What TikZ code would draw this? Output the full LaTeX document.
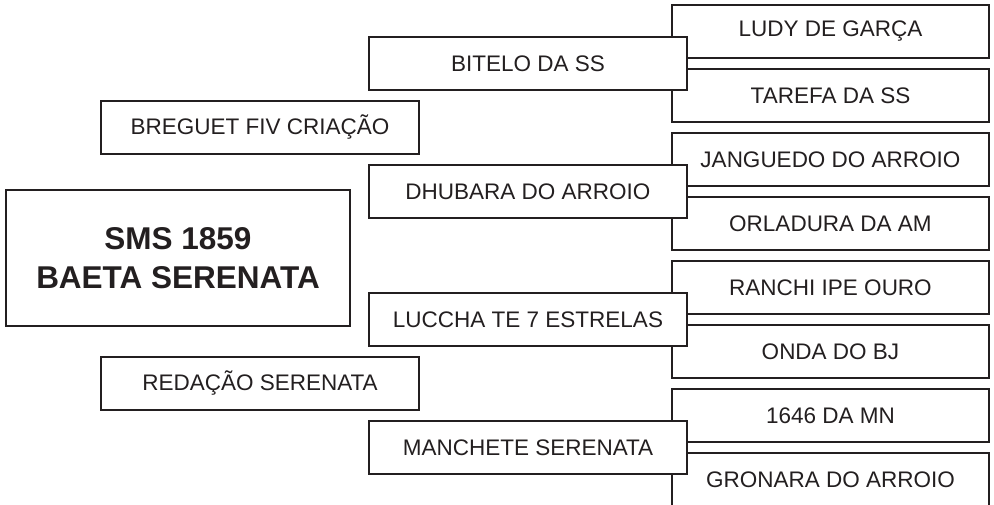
\documentclass[tikz,border=0pt]{standalone}
\usepackage{fontspec}
\setmainfont{Liberation Sans}
\definecolor{tinta}{RGB}{35,31,32}
\usepackage{tikz}

\begin{document}
\begin{tikzpicture}[x=1pt, y=-1pt, every node/.style={font=\fontsize{22.5}{26}\selectfont, text=tinta}]
  \tikzset{caixa/.style={draw=tinta, line width=2.9pt, fill=white, inner sep=0pt, minimum width=318pt, minimum height=53pt}}
  \useasboundingbox (0,0) rectangle (994,505);
  % Bisavos (direita)
  \foreach \i/\nome in {0/LUDY DE GARÇA, 1/TAREFA DA SS, 2/JANGUEDO DO ARROIO, 3/ORLADURA DA AM,
                        4/RANCHI IPE OURO, 5/ONDA DO BJ, 6/1646 DA MN, 7/GRONARA DO ARROIO} {
    \node[caixa, minimum width=317pt] (bisavo\i) at (830.5, 31.5+\i*64) {\nome};
  }
  % Avos (centro)
  \foreach \i/\nome in {0/BITELO DA SS, 1/DHUBARA DO ARROIO, 2/LUCCHA TE 7 ESTRELAS, 3/MANCHETE SERENATA} {
    \node[caixa] (avo\i) at (528, 63.5+\i*128) {\nome};
  }
  % Pais (esquerda)
  \foreach \i/\nome in {0/BREGUET FIV CRIAÇÃO, 1/REDAÇÃO SERENATA} {
    \node[caixa] (pai\i) at (260, 127.5+\i*256) {\nome};
  }
  % Animal
  \node[caixa, minimum width=344pt, minimum height=136pt, align=center,
        font=\fontsize{31.5}{39}\selectfont\bfseries] (animal) at (178, 258) {SMS 1859\\BAETA SERENATA};
\end{tikzpicture}
\end{document}
